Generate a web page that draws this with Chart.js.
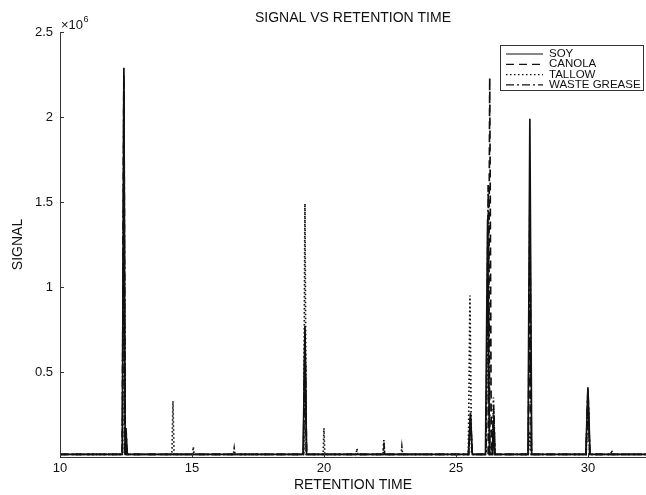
<!DOCTYPE html>
<html>
<head>
<meta charset="utf-8">
<script src="https://cdn.jsdelivr.net/npm/chart.js@4"></script>
<style>
  body { margin: 0; background: #fff; }
  canvas { display: block; }
</style>
</head>
<body>
<canvas id="myChart" width="646" height="495"></canvas>
<script>
const seriesNames = ["SOY", "CANOLA", "TALLOW", "WASTE GREASE"];

const soyTime = [10, 12.36, 12.42, 12.47, 12.5, 12.54, 19.21, 19.28, 19.34, 25.47, 25.55, 25.62,
    26.12, 26.2, 26.27, 26.38, 26.42, 26.47, 27.73, 27.8, 27.87, 29.92, 30.0, 30.08, 32.2];
const soySignal = [15000, 15000, 2290000, 15000, 120000, 15000, 15000, 770000, 15000, 15000, 260000, 15000,
    15000, 1400000, 15000, 15000, 200000, 15000, 15000, 1990000, 15000, 15000, 410000, 15000, 15000];

const canolaTime = [10, 12.36, 12.42, 12.46, 12.5, 12.55, 19.22, 19.28, 19.34, 25.48, 25.55, 25.62,
    26.22, 26.28, 26.34, 26.38, 26.43, 26.48, 27.74, 27.8, 27.86, 29.93, 30.0, 30.07, 32.2];
const canolaSignal = [15000, 15000, 2200000, 15000, 150000, 15000, 15000, 700000, 15000, 15000, 220000, 15000,
    15000, 2230000, 15000, 15000, 250000, 15000, 15000, 900000, 15000, 15000, 380000, 15000, 15000];

const tallowTime = [10, 12.37, 12.42, 12.47, 14.24, 14.28, 14.32, 15.02, 15.05, 15.08, 16.57, 16.6, 16.63,
    19.23, 19.28, 19.33, 19.97, 20.0, 20.03, 21.22, 21.25, 21.28, 22.24, 22.27, 22.3, 22.92, 22.95, 22.98,
    25.47, 25.53, 25.59, 26.14, 26.2, 26.26, 26.38, 26.42, 26.47, 27.74, 27.8, 27.86, 29.93, 30.0, 30.07,
    30.87, 30.9, 30.93, 32.2];
const tallowSignal = [15000, 15000, 1700000, 15000, 15000, 330000, 15000, 15000, 60000, 15000, 15000, 50000, 15000,
    15000, 1490000, 15000, 15000, 170000, 15000, 15000, 50000, 15000, 15000, 100000, 15000, 15000, 60000, 15000,
    15000, 950000, 15000, 15000, 1000000, 15000, 15000, 350000, 15000, 15000, 150000, 15000, 15000, 350000, 15000,
    15000, 40000, 15000, 15000];

const wasteTime = [10, 12.36, 12.42, 12.47, 12.5, 12.55, 19.22, 19.28, 19.34, 22.24, 22.27, 22.3,
    25.48, 25.55, 25.62, 26.14, 26.22, 26.29, 26.38, 26.43, 26.48, 27.74, 27.8, 27.86, 29.93, 30.0, 30.07, 32.2];
const wasteSignal = [15000, 15000, 2250000, 15000, 170000, 15000, 15000, 720000, 15000, 15000, 80000, 15000,
    15000, 230000, 15000, 15000, 1600000, 15000, 15000, 300000, 15000, 15000, 1500000, 15000, 15000, 400000, 15000, 15000];

const xTicks = [10, 15, 20, 25, 30];
const yTicks = [0, 500000, 1000000, 1500000, 2000000, 2500000];
const dashes = [[], [8, 5], [1.5, 2.5], [8, 3, 2, 3]];

function points(times, signals) {
    return times.map(function(t, i) { return { x: t, y: signals[i] }; });
}

const FONT = "'Liberation Sans', Arial, sans-serif";

const extras = {
    id: "extras",
    afterDraw(chart) {
        const ctx = chart.ctx;
        const x = chart.scales.x;
        const y = chart.scales.y;
        const area = chart.chartArea;
        ctx.save();
        ctx.strokeStyle = "#333";
        ctx.lineWidth = 1;
        ctx.beginPath();
        xTicks.forEach(function(v) {
            const px = Math.round(x.getPixelForValue(v)) + 0.5;
            ctx.moveTo(px, area.bottom);
            ctx.lineTo(px, area.bottom - 4);
        });
        yTicks.forEach(function(v) {
            if (v === 0) return;
            const py = Math.round(y.getPixelForValue(v)) + 0.5;
            ctx.moveTo(area.left, py);
            ctx.lineTo(area.left + 4, py);
        });
        ctx.stroke();

        ctx.fillStyle = "#111";
        ctx.textAlign = "center";
        ctx.textBaseline = "middle";
        ctx.font = "14px " + FONT;
        ctx.fillText("SIGNAL VS RETENTION TIME", (area.left + area.right) / 2, 18);
        ctx.fillText("RETENTION TIME", (area.left + area.right) / 2, 485);
        ctx.save();
        ctx.translate(18, (area.top + area.bottom) / 2);
        ctx.rotate(-Math.PI / 2);
        ctx.fillText("SIGNAL", 0, 0);
        ctx.restore();

        ctx.textAlign = "left";
        ctx.font = "13px " + FONT;
        ctx.fillText("\u00d710", 61, 25);
        const w = ctx.measureText("\u00d710").width;
        ctx.font = "9px " + FONT;
        ctx.fillText("6", 61 + w + 0.5, 20);

        // legend
        const lx = 500, ly = 45, lw = 143, lh = 45;
        ctx.fillStyle = "#fff";
        ctx.fillRect(lx, ly, lw, lh);
        ctx.strokeStyle = "#333";
        ctx.strokeRect(lx + 0.5, ly + 0.5, lw, lh);
        ctx.font = "11.5px " + FONT;
        chart.data.datasets.forEach(function(ds, i) {
            const ry = 54 + i * 10.3;
            ctx.strokeStyle = "#111";
            ctx.lineWidth = 1.2;
            ctx.setLineDash(ds.borderDash);
            ctx.beginPath();
            ctx.moveTo(506, ry);
            ctx.lineTo(543, ry);
            ctx.stroke();
            ctx.setLineDash([]);
            ctx.fillStyle = "#111";
            ctx.fillText(ds.label, 549, ry);
        });
        ctx.restore();
    }
};

const ctx = document.getElementById("myChart");
const myChart = new Chart(ctx, {
    type: "line",
    data: {
        datasets: [
            { label: seriesNames[0], data: points(soyTime, soySignal), borderDash: dashes[0] },
            { label: seriesNames[1], data: points(canolaTime, canolaSignal), borderDash: dashes[1] },
            { label: seriesNames[2], data: points(tallowTime, tallowSignal), borderDash: dashes[2] },
            { label: seriesNames[3], data: points(wasteTime, wasteSignal), borderDash: dashes[3] }
        ].map(function(ds) {
            ds.borderColor = "#111";
            ds.borderWidth = 1.7;
            ds.pointRadius = 0;
            ds.tension = 0;
            ds.fill = false;
            return ds;
        })
    },
    options: {
        responsive: false,
        animation: false,
        events: [],
        layout: { padding: { top: 32, right: 0, left: 0, bottom: 0 } },
        plugins: { legend: { display: false }, title: { display: false }, tooltip: { enabled: false } },
        scales: {
            x: {
                type: "linear",
                min: 10,
                max: 32.2,
                grid: { display: false, drawTicks: false },
                border: { display: true, color: "#333", width: 1 },
                afterBuildTicks: function(scale) { scale.ticks = xTicks.map(function(v) { return { value: v }; }); },
                afterFit: function(scale) { scale.height = 38; },
                ticks: { color: "#111", font: { size: 13, family: FONT }, padding: 4, maxRotation: 0,
                    callback: function(v) { return v; } }
            },
            y: {
                min: 0,
                max: 2500000,
                grid: { display: false, drawTicks: false },
                border: { display: true, color: "#333", width: 1 },
                afterBuildTicks: function(scale) { scale.ticks = yTicks.map(function(v) { return { value: v }; }); },
                afterFit: function(scale) { scale.width = 60; },
                ticks: { color: "#111", font: { size: 13, family: FONT }, padding: 7,
                    callback: function(v) { return v === 0 ? "" : String(v / 1000000); } }
            }
        }
    },
    plugins: [extras]
});
</script>
</body>
</html>
